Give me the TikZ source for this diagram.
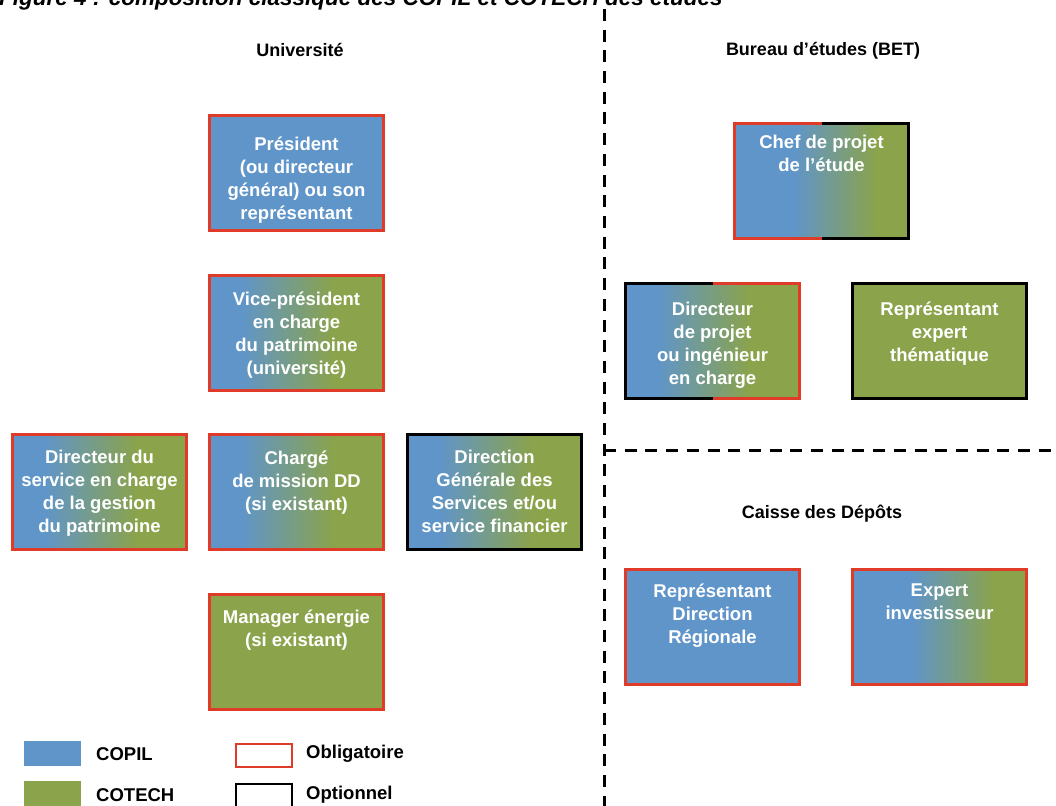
\documentclass[tikz,border=0pt]{standalone}
\usepackage{fontspec}
\setmainfont{Liberation Sans}
\definecolor{cblue}{RGB}{96,149,201}
\definecolor{cgreen}{RGB}{139,163,74}
\definecolor{cred}{RGB}{224,58,40}
\pgfdeclarehorizontalshading{bgA}{100bp}{color(0bp)=(cblue); color(34bp)=(cblue); color(61bp)=(cgreen); color(100bp)=(cgreen)}
\pgfdeclarehorizontalshading{bgB}{100bp}{color(0bp)=(cblue); color(42bp)=(cblue); color(66bp)=(cgreen); color(100bp)=(cgreen)}
\tikzset{
  box/.style={anchor=north west, minimum width=174pt, minimum height=115pt, inner sep=0pt, outer sep=0pt, line width=3pt},
  oblig/.style={draw=cred},
  optio/.style={draw=black},
  copil/.style={fill=cblue},
  cotech/.style={fill=cgreen},
  mixed/.style={shading=bgA},
  mixedB/.style={shading=bgB},
  txt/.style={anchor=north, inner sep=0pt, text=white, align=center, font=\bfseries\fontsize{18.5}{23}\selectfont},
  head/.style={inner sep=0pt, font=\bfseries\fontsize{18}{22}\selectfont},
  legtxt/.style={anchor=west, inner sep=0pt, font=\bfseries\fontsize{18.5}{22}\selectfont},
  sep/.style={line width=3pt, dash pattern=on 12pt off 8.7pt},
  halfred/.style={draw=cred, line width=3pt},
  halfblack/.style={draw=black, line width=3pt}
}
\begin{document}
\begin{tikzpicture}[x=1pt,y=-1pt]
\useasboundingbox (0,0) rectangle (1056,805);
\node[anchor=base west, inner sep=0pt, font=\bfseries\itshape\fontsize{22.5}{27}\selectfont] (title) at (-1,5.5) {Figure 4 : composition classique des COPIL et COTECH des études};

% separators
\coordinate (vtop) at (604,9);
\coordinate (vbot) at (604,810);
\coordinate (hl) at (604,450);
\coordinate (hr) at (1060,450);
\draw[sep] (vtop) -- (vbot);
\draw[sep] (hl) -- (hr);

% headers
\node[head] (univ) at (300,50) {Université};
\node[head] (bet) at (823,51) {Bureau d’études (BET)};
\node[head] (cdc) at (822,514) {Caisse des Dépôts};

% Université boxes
\node[box, copil, oblig] (pres) at (209.5,115.5) {};
\node[txt] (presT) at ([yshift=-21pt]pres.north) {Président\\(ou directeur\\général) ou son\\représentant};

\node[box, mixed, oblig] (vp) at (209.5,275.5) {};
\node[txt] (vpT) at ([yshift=-16pt]vp.north) {Vice-président\\en charge\\du patrimoine\\(université)};

\node[box, mixed, oblig] (dirsvc) at (12.5,434.5) {};
\node[txt] (dirsvcT) at ([yshift=-15pt]dirsvc.north) {Directeur du\\service en charge\\de la gestion\\du patrimoine};

\node[box, mixed, oblig] (charge) at (209.5,434.5) {};
\node[txt] (chargeT) at ([yshift=-16pt]charge.north) {Chargé\\de mission DD\\(si existant)};

\node[box, mixed, optio] (dgs) at (407.5,434.5) {};
\node[txt] (dgsT) at ([yshift=-15pt]dgs.north) {Direction\\Générale des\\Services et/ou\\service financier};

\node[box, cotech, oblig] (mgr) at (209.5,594.5) {};
\node[txt] (mgrT) at ([yshift=-15pt]mgr.north) {Manager énergie\\(si existant)};

% BET boxes
\node[box, mixedB] (chef) at (734.5,123.5) {};
\draw[halfred] (chef.north) -- (chef.north west) -- (chef.south west) -- (chef.south);
\draw[halfblack] (chef.north) -- (chef.north east) -- (chef.south east) -- (chef.south);
\node[txt] (chefT) at ([yshift=-11pt]chef.north) {Chef de projet\\de l’étude};

\node[box, mixed] (dirproj) at (625.5,283.5) {};
\draw[halfblack] (dirproj.north) -- (dirproj.north west) -- (dirproj.south west) -- (dirproj.south);
\draw[halfred] (dirproj.north) -- (dirproj.north east) -- (dirproj.south east) -- (dirproj.south);
\node[txt] (dirprojT) at ([yshift=-18pt]dirproj.north) {Directeur\\de projet\\ou ingénieur\\en charge};

\node[box, cotech, optio] (repexp) at (852.5,283.5) {};
\node[txt] (repexpT) at ([yshift=-18pt]repexp.north) {Représentant\\expert\\thématique};

% Caisse des Dépôts boxes
\node[box, copil, oblig] (repdr) at (625.5,569.5) {};
\node[txt] (repdrT) at ([yshift=-14pt]repdr.north) {Représentant\\Direction\\Régionale};

\node[box, mixedB, oblig] (expinv) at (852.5,569.5) {};
\node[txt] (expinvT) at ([yshift=-14pt]expinv.north) {Expert\\investisseur};

% legend
\node[anchor=north west, minimum width=57pt, minimum height=25pt, inner sep=0pt, copil] (legcopil) at (24,741) {};
\node[anchor=north west, minimum width=57pt, minimum height=30pt, inner sep=0pt, cotech] (legcotech) at (24,781) {};
\node[anchor=north west, minimum width=56pt, minimum height=23pt, inner sep=0pt, line width=2.5pt, oblig] (legoblig) at (234.5,742.5) {};
\node[anchor=north west, minimum width=56pt, minimum height=30pt, inner sep=0pt, line width=2.5pt, optio] (legoptio) at (234.5,782.5) {};
\node[legtxt] (tcopil) at (96,754) {COPIL};
\node[legtxt] (tcotech) at (96,795) {COTECH};
\node[legtxt] (toblig) at (306,754) {Obligatoire};
\node[legtxt] (toptio) at (306,795) {Optionnel};
\end{tikzpicture}
\end{document}
